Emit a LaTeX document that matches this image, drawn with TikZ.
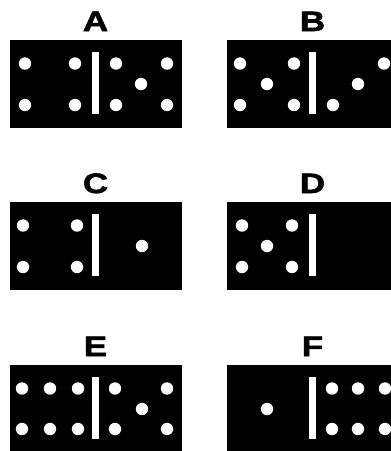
\documentclass[tikz,border=0pt]{standalone}
\usepackage{fontspec}
\newfontfamily\labelfont[FakeStretch=1.25,FakeBold=2]{Liberation Sans Bold}
\usetikzlibrary{positioning}

\tikzset{
  bone/.style={fill=black},
  divider/.style={fill=white},
  pip/.style={fill=white},
  letter/.style={font=\labelfont\fontsize{28}{28}\selectfont,
                 anchor=base, inner sep=0pt}
}

\begin{document}
\begin{tikzpicture}[x=1pt,y=-1pt]
  \useasboundingbox (0,0) rectangle (391,451);
  \clip (0,0) rectangle (391,451);
  % Domino A: 4 | 5
  \begin{scope}[shift={(10,40)}]
    \fill[bone] (0,0) rectangle (172,88);
    \fill[divider] (82,12) rectangle (89,74);
    \foreach \px/\py in {15/23.5,65/23.5,15/65,65/65,
                         106/23.5,157/23.5,131/44,106/65,157/65}
      \fill[pip] (\px,\py) circle (6.2pt);
    \node[letter] (labA) at (85.5,-9) {A};
  \end{scope}
  % Domino B: 5 | 3
  \begin{scope}[shift={(227,40)}]
    \fill[bone] (0,0) rectangle (172,88);
    \fill[divider] (82,12) rectangle (89,74);
    \foreach \px/\py in {13/23.5,67/23.5,40/44,13/65,67/65,
                         157/23.5,131/44,106/65}
      \fill[pip] (\px,\py) circle (6.2pt);
    \node[letter] (labB) at (85.5,-9) {B};
  \end{scope}
  % Domino C: 4 | 1
  \begin{scope}[shift={(10,202)}]
    \fill[bone] (0,0) rectangle (172,88);
    \fill[divider] (82,12) rectangle (89,74);
    \foreach \px/\py in {13/23.5,67/23.5,13/65,67/65,
                         132/44}
      \fill[pip] (\px,\py) circle (6.2pt);
    \node[letter] (labC) at (85.5,-9) {C};
  \end{scope}
  % Domino D: 5 | 0
  \begin{scope}[shift={(227,202)}]
    \fill[bone] (0,0) rectangle (172,88);
    \fill[divider] (82,12) rectangle (89,74);
    \foreach \px/\py in {15/23.5,65/23.5,40/44,15/65,65/65}
      \fill[pip] (\px,\py) circle (6.2pt);
    \node[letter] (labD) at (85.5,-9) {D};
  \end{scope}
  % Domino E: 6 | 5
  \begin{scope}[shift={(10,365)}]
    \fill[bone] (0,0) rectangle (172,88);
    \fill[divider] (82,12) rectangle (89,74);
    \foreach \px/\py in {12/23.5,40/23.5,68/23.5,12/64,40/64,68/64,
                         105/23.5,157/23.5,132/44,105/64,157/64}
      \fill[pip] (\px,\py) circle (6.2pt);
    \node[letter] (labE) at (85.5,-9) {E};
  \end{scope}
  % Domino F: 1 | 6
  \begin{scope}[shift={(227,365)}]
    \fill[bone] (0,0) rectangle (172,88);
    \fill[divider] (82,12) rectangle (89,74);
    \foreach \px/\py in {40/44,
                         105/23.5,131/23.5,158/23.5,105/64,131/64,158/64}
      \fill[pip] (\px,\py) circle (6.2pt);
    \node[letter] (labF) at (85.5,-9) {F};
  \end{scope}
\end{tikzpicture}
\end{document}
